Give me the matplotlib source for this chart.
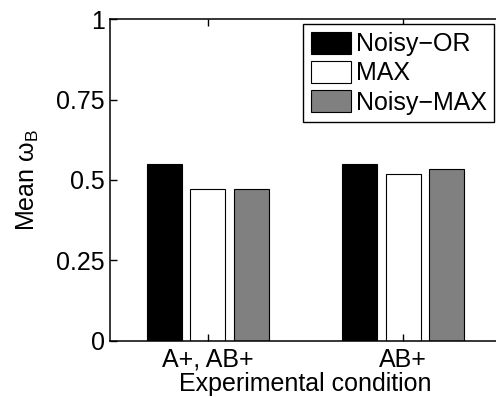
import matplotlib
matplotlib.use('Agg')
import matplotlib.pyplot as plt
import numpy as np

plt.rcParams['font.family'] = ['Liberation Sans', 'DejaVu Sans']
plt.rcParams['mathtext.fontset'] = 'custom'
plt.rcParams['mathtext.rm'] = 'Liberation Sans'
plt.rcParams['mathtext.it'] = 'Liberation Sans'

# data
conditions = ['A+, AB+', 'AB+']
models = ['Noisy\u2212OR', 'MAX', 'Noisy\u2212MAX']
noisy_or = [0.549, 0.549]
max_vals = [0.471, 0.520]
noisy_max = [0.471, 0.534]
colors = ['black', 'white', '#808080']

fig = plt.figure(figsize=(4.96, 3.97), dpi=100)
ax = fig.add_axes([0.2218, 0.1411, 0.788, 0.811])

x = np.arange(1, len(conditions) + 1)
w = 0.178
offs = [-0.222, 0.0, 0.222]
for vals, off, c, lab in zip([noisy_or, max_vals, noisy_max], offs, colors, models):
    ax.bar(x + off, vals, w, color=c, edgecolor='black', linewidth=0.8, label=lab)

ax.set_xlim(0.5, 2.5)
ax.set_ylim(0, 1)
ax.set_yticks([0, 0.25, 0.5, 0.75, 1])
ax.set_yticklabels(['0', '0.25', '0.5', '0.75', '1'])
ax.set_xticks(x)
ax.set_xticklabels(conditions)
ax.tick_params(direction='in', top=True, right=False, length=5, width=1,
               labelsize=18)
ax.tick_params(axis='y', pad=3.6)
ax.tick_params(axis='x', pad=5)
for s in ax.spines.values():
    s.set_linewidth(1.1)

ax.set_xlabel('Experimental condition', fontsize=18, labelpad=0)
ax.set_ylabel('Mean $\\omega_B$', fontsize=18, labelpad=11)

leg = ax.legend(loc='upper right', bbox_to_anchor=(494 / 496, 1 - 24 / 397),
                bbox_transform=fig.transFigure, fontsize=18, fancybox=False,
                framealpha=1, edgecolor='black', borderaxespad=0,
                borderpad=0.3, labelspacing=0.18, handlelength=1.6,
                handleheight=1.0, handletextpad=0.2)
leg.get_frame().set_linewidth(1.0)

fig.savefig('out.png', dpi=100)
